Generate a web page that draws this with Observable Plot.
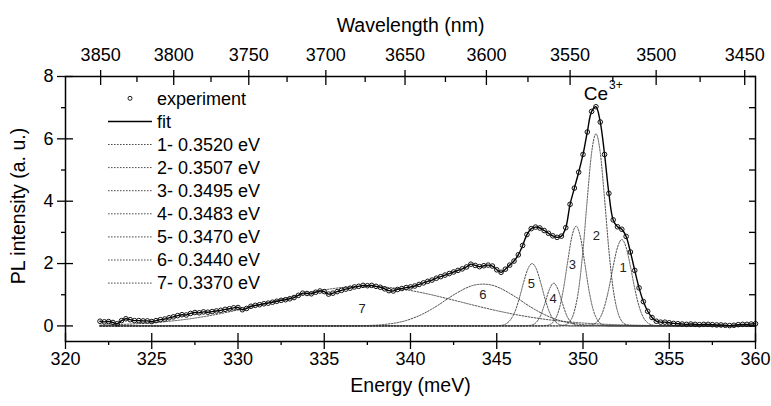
<!DOCTYPE html>
<html><head><meta charset="utf-8">
<script src="https://cdn.jsdelivr.net/npm/d3@7"></script>
<script src="https://cdn.jsdelivr.net/npm/@observablehq/plot@0.6"></script>
<style>
html,body{margin:0;padding:0;background:#fff;}
#chart{width:771px;height:406px;}
</style></head><body><div id="chart"></div>
<script>
// ---------- data ----------
const expEnergy = [
322.00,322.25,322.50,322.75,323.00,323.25,323.50,323.75,324.00,324.25,324.50,324.75,
325.00,325.25,325.50,325.75,326.00,326.25,326.50,326.75,327.00,327.25,327.50,327.75,
328.00,328.25,328.50,328.75,329.00,329.25,329.50,329.75,330.00,330.25,330.50,330.75,
331.00,331.25,331.50,331.75,332.00,332.25,332.50,332.75,333.00,333.25,333.50,333.75,
334.00,334.25,334.50,334.75,335.00,335.25,335.50,335.75,336.00,336.25,336.50,336.75,
337.00,337.25,337.50,337.75,338.00,338.25,338.50,338.75,339.00,339.25,339.50,339.75,
340.00,340.25,340.50,340.75,341.00,341.25,341.50,341.75,342.00,342.25,342.50,342.75,
343.00,343.25,343.50,343.75,344.00,344.25,344.50,344.75,345.00,345.25,345.50,345.75,
346.00,346.25,346.50,346.75,347.00,347.25,347.50,347.75,348.00,348.25,348.50,348.75,
349.00,349.25,349.50,349.75,350.00,350.25,350.50,350.75,351.00,351.25,351.50,351.75,
352.00,352.25,352.50,352.75,353.00,353.25,353.50,353.75,354.00,354.25,354.50,354.75,
355.00,355.25,355.50,355.75,356.00,356.25,356.50,356.75,357.00,357.25,357.50,357.75,
358.00,358.25,358.50,358.75,359.00,359.25,359.50,359.75,360.00];
const expIntensity = [
0.15,0.13,0.14,0.11,0.07,0.17,0.23,0.20,0.17,0.17,0.16,0.16,
0.14,0.17,0.20,0.22,0.26,0.29,0.33,0.36,0.35,0.40,0.43,0.42,
0.45,0.44,0.46,0.48,0.50,0.53,0.55,0.58,0.59,0.52,0.56,0.63,
0.66,0.68,0.71,0.73,0.76,0.79,0.82,0.84,0.87,0.91,0.98,1.05,
1.04,1.03,1.08,1.12,1.10,1.02,1.05,1.10,1.14,1.18,1.21,1.25,
1.27,1.30,1.29,1.30,1.27,1.24,1.19,1.13,1.12,1.17,1.20,1.23,
1.25,1.28,1.33,1.38,1.43,1.47,1.53,1.58,1.63,1.68,1.73,1.78,
1.83,1.89,1.98,1.94,1.90,1.93,1.95,1.92,1.80,1.72,1.82,1.95,
2.08,2.28,2.58,2.93,3.12,3.17,3.14,3.06,2.97,2.89,2.84,2.88,
3.15,3.90,4.42,4.93,5.50,6.22,6.88,7.03,6.54,5.50,4.25,3.40,
3.18,3.10,2.87,2.37,1.78,1.22,0.78,0.47,0.27,0.15,0.12,0.12,
0.10,0.08,0.07,0.06,0.05,0.06,0.05,0.04,0.05,0.05,0.04,0.03,
0.03,0.02,0.01,0.02,0.04,0.05,0.05,0.06,0.07];

const peak1E = [322,350,350.25,350.5,350.75,351,351.25,351.5,351.75,352,352.25,352.5,352.75,353,353.25,353.5,353.75,354,354.25,354.5,360];
const peak1I = [0,0,0.01,0.03,0.10,0.27,0.63,1.20,1.91,2.52,2.77,2.52,1.91,1.20,0.63,0.27,0.10,0.03,0.01,0,0];
const peak2E = [322,348.5,348.75,349,349.25,349.5,349.75,350,350.25,350.5,350.75,351,351.25,351.5,351.75,352,352.25,352.5,352.75,353,360];
const peak2I = [0,0,0.01,0.04,0.15,0.47,1.18,2.43,4.08,5.56,6.16,5.56,4.08,2.43,1.18,0.47,0.15,0.04,0.01,0,0];
const peak3E = [322,347.6,347.85,348.1,348.35,348.6,348.85,349.1,349.35,349.6,349.85,350.1,350.35,350.6,350.85,351.1,351.35,351.6,360];
const peak3I = [0,0,0.01,0.05,0.18,0.50,1.13,2.02,2.85,3.20,2.85,2.02,1.13,0.50,0.18,0.05,0.01,0,0];
const peak4E = [322,346.55,346.8,347.05,347.3,347.55,347.8,348.05,348.3,348.55,348.8,349.05,349.3,349.55,349.8,350.05,360];
const peak4I = [0,0,0.01,0.03,0.12,0.34,0.74,1.17,1.37,1.17,0.74,0.34,0.12,0.03,0.01,0,0];
const peak5E = [322,344.8,345.05,345.3,345.55,345.8,346.05,346.3,346.55,346.8,347.05,347.3,347.55,347.8,348.05,348.3,348.55,348.8,349.05,349.3,360];
const peak5I = [0,0,0.01,0.02,0.07,0.20,0.45,0.87,1.38,1.82,2.00,1.82,1.38,0.87,0.45,0.20,0.07,0.02,0.01,0,0];
const peak6E = [322,336.2,336.7,337.2,337.7,338.2,338.7,339.2,339.7,340.2,340.7,341.2,341.7,342.2,342.7,343.2,343.7,344.2,344.7,345.2,345.7,346.2,346.7,347.2,347.7,348.2,348.7,349.2,349.7,350.2,350.7,351.2,351.7,352.2,360];
const peak6I = [0,0,0.004,0.008,0.017,0.03,0.06,0.10,0.165,0.26,0.38,0.53,0.70,0.89,1.06,1.21,1.31,1.34,1.31,1.21,1.06,0.89,0.70,0.53,0.38,0.26,0.165,0.10,0.06,0.03,0.017,0.008,0.004,0,0];
const peak7E = [322,323,324,325,326,327,328,329,330,331,332,333,334,335,336,337,338,339,340,341,342,343,344,345,346,347,348,349,350,351,352,353,354,355,356,360];
const peak7I = [0.025,0.041,0.065,0.100,0.148,0.212,0.295,0.396,0.514,0.645,0.784,0.922,1.049,1.155,1.229,1.267,1.262,1.217,1.136,1.025,0.895,0.756,0.618,0.489,0.374,0.277,0.198,0.137,0.092,0.060,0.037,0.023,0.013,0.008,0.004,0];

const peakNames = ["1","2","3","4","5","6","7"];
const peakLegend = ["1- 0.3520 eV","2- 0.3507 eV","3- 0.3495 eV","4- 0.3483 eV","5- 0.3470 eV","6- 0.3440 eV","7- 0.3370 eV"];
const peakLabelE = [352.33,350.77,349.38,348.27,347.0,344.2,337.2];
const peakLabelI = [1.85,2.9,1.95,0.88,1.36,1.0,0.55];

const energyTicks = [320,325,330,335,340,345,350,355,360];
const energyMinor = [322.5,327.5,332.5,337.5,342.5,347.5,352.5,357.5];
const intensityTicks = [0,2,4,6,8];
const intensityMinor = [1,3,5,7];
const intensityAll = [0,1,2,3,4,5,6,7,8];
const wavelengthTicks = [3850,3800,3750,3700,3650,3600,3550,3500,3450];
const wavelengthMinor = [3825,3775,3725,3675,3625,3575,3525,3475];

// ---------- tables ----------
const HC = 1239841.98; // nm*meV
const toE = w => HC / w;
const exp = expEnergy.map((E, i) => ({E, I: expIntensity[i]}));
const compE = [peak1E, peak2E, peak3E, peak4E, peak5E, peak6E, peak7E];
const compI = [peak1I, peak2I, peak3I, peak4I, peak5I, peak6I, peak7I];
const comps = compE.map((es, k) => es.map((E, i) => ({E, I: compI[k][i], peak: peakNames[k]})));
const peakLabels = peakNames.map((n, i) => ({n, E: peakLabelE[i], I: peakLabelI[i]}));

const FONT = "'Liberation Sans', Arial, Helvetica, sans-serif";
const blank = () => "";
const dotted = {stroke: "#3a3a3a", strokeWidth: 0.9, strokeDasharray: "1.6,1.4"};

const plot = Plot.plot({
  width: 771, height: 406,
  marginLeft: 65, marginRight: 16, marginTop: 76, marginBottom: 65,
  x: {domain: [320, 360]},
  y: {domain: [-0.5, 8]},
  style: {fontFamily: FONT, fontSize: "18px", color: "black", background: "white", overflow: "visible"},
  marks: [
    ...comps.map(c => Plot.line(c, {x: "E", y: "I", curve: "monotone-x", ...dotted})),
    Plot.line(exp, {x: "E", y: "I", curve: "catmull-rom", stroke: "black", strokeWidth: 1.4}),
    Plot.dot(exp, {x: "E", y: "I", r: 2.3, stroke: "#111", strokeWidth: 1, fill: "none"}),
    Plot.text(peakLabels, {x: "E", y: "I", text: "n", fontSize: 13, fill: "#222"}),
    Plot.text(["Ce"], {x: [350.75], y: [7.45], text: d => d, fontSize: 19}),
    Plot.text(["3+"], {x: [350.75], y: [7.45], text: d => d, fontSize: 12, dx: 20, dy: -8}),
    Plot.frame({stroke: "black", strokeWidth: 1.5}),
    // bottom energy axis
    Plot.axisX({ticks: energyTicks, anchor: "bottom", tickSize: 8, tickPadding: 3, fontSize: 18, label: null, strokeWidth: 1.3}),
    Plot.axisX({ticks: energyTicks, anchor: "bottom", tickSize: -8, tickFormat: blank, label: null, strokeWidth: 1.3}),
    Plot.axisX({ticks: energyMinor, anchor: "bottom", tickSize: 4, tickFormat: blank, label: null, strokeWidth: 1.3}),
    // top wavelength axis
    Plot.axisX({ticks: wavelengthTicks.map(toE), anchor: "top", tickSize: 7, tickPadding: 9, fontSize: 18,
      tickFormat: e => String(Math.round(HC / e)), label: null, strokeWidth: 1.3}),
    Plot.axisX({ticks: wavelengthTicks.map(toE), anchor: "top", tickSize: -8, tickFormat: blank, label: null, strokeWidth: 1.3}),
    Plot.axisX({ticks: wavelengthMinor.map(toE), anchor: "top", tickSize: -5, tickFormat: blank, label: null, strokeWidth: 1.3}),
    // left intensity axis
    Plot.axisY({ticks: intensityTicks, anchor: "left", tickSize: 8, tickPadding: 4, fontSize: 18, label: null, strokeWidth: 1.3}),
    Plot.axisY({ticks: intensityTicks, anchor: "left", tickSize: -8, tickFormat: blank, label: null, strokeWidth: 1.3}),
    Plot.axisY({ticks: intensityMinor, anchor: "left", tickSize: 4, tickFormat: blank, label: null, strokeWidth: 1.3}),
    // right frame ticks
    Plot.axisY({ticks: intensityAll, anchor: "right", tickSize: -7, tickFormat: blank, label: null, strokeWidth: 1.3}),
    // axis titles
    Plot.text(["Energy (meV)"], {frameAnchor: "bottom", dy: 50, text: d => d, fontSize: 19.5}),
    Plot.text(["Wavelength (nm)"], {frameAnchor: "top", dy: -58, text: d => d, fontSize: 19.5}),
    Plot.text(["PL intensity (a. u.)"], {frameAnchor: "left", textAnchor: "middle", dx: -47, dy: -3, rotate: -90, text: d => d, fontSize: 19.5})
  ]
});

// ---------- in-plot legend ----------
const svg = d3.select(plot);
const lg = svg.append("g").attr("font-family", FONT).attr("font-size", 18).attr("fill", "black").attr("text-anchor", "start");
const rows = ["experiment", "fit", ...peakLegend];
const x0 = 108, x1 = 152, tx = 157, ry0 = 98.3, rdy = 23.1;
rows.forEach((label, i) => {
  const y = ry0 + i * rdy;
  if (i === 0) {
    lg.append("circle").attr("cx", (x0 + x1) / 2).attr("cy", y).attr("r", 2)
      .attr("fill", "none").attr("stroke", "black").attr("stroke-width", 0.9);
  } else if (i === 1) {
    lg.append("line").attr("x1", x0).attr("x2", x1).attr("y1", y).attr("y2", y)
      .attr("stroke", "black").attr("stroke-width", 1.5);
  } else {
    lg.append("line").attr("x1", x0).attr("x2", x1).attr("y1", y).attr("y2", y)
      .attr("stroke", dotted.stroke).attr("stroke-width", dotted.strokeWidth).attr("stroke-dasharray", dotted.strokeDasharray);
  }
  lg.append("text").attr("x", tx).attr("y", y).attr("dy", "0.35em").attr("text-anchor", "start").text(label);
});

document.getElementById("chart").appendChild(plot);
</script></body></html>
